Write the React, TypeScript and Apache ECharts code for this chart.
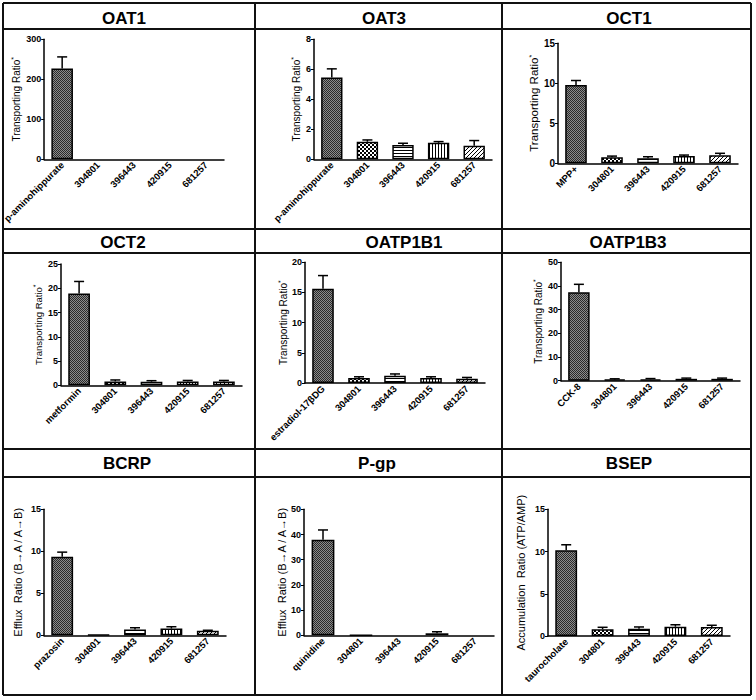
import React, { useEffect, useRef } from 'react';
import * as echarts from 'echarts';

const panelTitles = ['OAT1', 'OAT3', 'OCT1', 'OCT2', 'OATP1B1', 'OATP1B3', 'BCRP', 'P-gp', 'BSEP'];
const controls = ['p-aminohippurate', 'p-aminohippurate', 'MPP+', 'metformin', 'estradiol-17βDG', 'CCK-8', 'prazosin', 'quinidine', 'taurocholate'];
const compounds = ['304801', '396443', '420915', '681257'];
const yNames = [
  'Transporting Ratio', 'Transporting Ratio', 'Transporting Ratio',
  'Transporting Ratio', 'Transporting Ratio', 'Transporting Ratio',
  'Efflux  Ratio (B→A / A→B)', 'Efflux  Ratio (B→A / A→B)', 'Accumulation  Ratio (ATP/AMP)',
];
const yStar = [true, true, true, true, true, true, false, false, false];
const yMax = [300, 8, 15, 25, 20, 50, 15, 50, 15];
const yInterval = [100, 2, 5, 5, 5, 10, 5, 10, 5];

// mean values: [control, 304801, 396443, 420915, 681257]
const oat1Mean = [227, 0, 0, 0, 0];
const oat3Mean = [5.45, 1.17, 0.95, 1.1, 0.9];
const oct1Mean = [9.8, 0.75, 0.62, 0.9, 1.0];
const oct2Mean = [18.9, 0.8, 0.75, 0.8, 0.8];
const oatp1b1Mean = [15.6, 0.83, 1.2, 0.83, 0.72];
const oatp1b3Mean = [37.3, 0.5, 0.6, 0.8, 0.8];
const bcrpMean = [9.35, 0.05, 0.7, 0.8, 0.55];
const pgpMean = [37.9, 0.1, 0, 0.8, 0];
const bsepMean = [10.15, 0.8, 0.87, 1.1, 1.07];

// upper error (SD)
const oat1Err = [29, 0, 0, 0, 0];
const oat3Err = [0.58, 0.12, 0.12, 0.08, 0.35];
const oct1Err = [0.55, 0.15, 0.2, 0.13, 0.25];
const oct2Err = [2.5, 0.3, 0.2, 0.2, 0.2];
const oatp1b1Err = [2.2, 0.2, 0.3, 0.2, 0.2];
const oatp1b3Err = [3.4, 0.3, 0.3, 0.3, 0.3];
const bcrpErr = [0.55, 0, 0.2, 0.22, 0.05];
const pgpErr = [3.9, 0, 0, 0.6, 0];
const bsepErr = [0.65, 0.23, 0.2, 0.23, 0.2];

const means = [oat1Mean, oat3Mean, oct1Mean, oct2Mean, oatp1b1Mean, oatp1b3Mean, bcrpMean, pgpMean, bsepMean];
const errs = [oat1Err, oat3Err, oct1Err, oct2Err, oatp1b1Err, oatp1b3Err, bcrpErr, pgpErr, bsepErr];

// layout (pixels)
const gridBoxes = [
  { left: 42, top: 39.3, width: 182, height: 120, nameGap: 22, nameSize: 10, tickSize: 9 },
  { left: 314, top: 39.3, width: 178, height: 120, nameGap: 12, nameSize: 10, tickSize: 9 },
  { left: 558, top: 43.3, width: 180, height: 120, nameGap: 15, nameSize: 11.5, tickSize: 10 },
  { left: 61, top: 264, width: 181, height: 121.3, nameGap: 17, nameSize: 9.5, tickSize: 9 },
  { left: 305, top: 262.3, width: 180, height: 120.7, nameGap: 16, nameSize: 10, tickSize: 9 },
  { left: 561, top: 262.3, width: 179, height: 118.4, nameGap: 17, nameSize: 10, tickSize: 9 },
  { left: 44, top: 509.3, width: 182, height: 126, nameGap: 20, nameSize: 11, tickSize: 9 },
  { left: 304, top: 509.3, width: 190, height: 126, nameGap: 16, nameSize: 11, tickSize: 9 },
  { left: 548, top: 509.3, width: 182, height: 126.7, nameGap: 21, nameSize: 11, tickSize: 9 },
];
const vLines = [3, 255, 502, 751];
const hLines = [3, 29, 229, 253, 449, 477, 695];
const titlePos = [[124, 18], [384, 18], [629, 18], [123, 242], [404, 242], [628, 242], [127, 463], [377, 463], [629, 463]];

const FONT = '"Liberation Sans", Arial, sans-serif';

function makePattern(kind: string) {
  const c = document.createElement('canvas');
  const ctx = c.getContext('2d') as CanvasRenderingContext2D;
  if (kind === 'dark') {
    c.width = 2; c.height = 2;
    ctx.fillStyle = '#8c8c8c'; ctx.fillRect(0, 0, 2, 2);
    ctx.fillStyle = '#2a2a2a'; ctx.fillRect(0, 0, 1, 1); ctx.fillRect(1, 1, 1, 1);
  } else if (kind === 'checker') {
    c.width = 4; c.height = 4;
    ctx.fillStyle = '#ffffff'; ctx.fillRect(0, 0, 4, 4);
    ctx.fillStyle = '#000000'; ctx.fillRect(0, 0, 2, 2); ctx.fillRect(2, 2, 2, 2);
  } else if (kind === 'hlines') {
    c.width = 3; c.height = 3;
    ctx.fillStyle = '#ffffff'; ctx.fillRect(0, 0, 3, 3);
    ctx.fillStyle = '#000000'; ctx.fillRect(0, 0, 3, 1);
  } else if (kind === 'vlines') {
    c.width = 3; c.height = 3;
    ctx.fillStyle = '#ffffff'; ctx.fillRect(0, 0, 3, 3);
    ctx.fillStyle = '#000000'; ctx.fillRect(0, 0, 1, 3);
  } else {
    c.width = 4; c.height = 4;
    ctx.fillStyle = '#ffffff'; ctx.fillRect(0, 0, 4, 4);
    ctx.fillStyle = '#000000';
    for (let i = 0; i < 4; i++) ctx.fillRect(i, 3 - i, 1, 1);
  }
  return { image: c, repeat: 'repeat' };
}

export default function App() {
  const ref = useRef<HTMLDivElement>(null);
  useEffect(() => {
    document.body.style.margin = '0';
    if (!ref.current) return;
    const chart = echarts.init(ref.current, null, { renderer: 'svg' });
    const pats = ['dark', 'checker', 'hlines', 'vlines', 'diag'].map(makePattern);

    const grid: any[] = [];
    const xAxis: any[] = [];
    const yAxis: any[] = [];
    const series: any[] = [];
    panelTitles.forEach((_, i) => {
      const g = gridBoxes[i];
      grid.push({ left: g.left, top: g.top, width: g.width, height: g.height });
      xAxis.push({
        type: 'category', gridIndex: i, data: [controls[i], ...compounds],
        axisLine: { lineStyle: { color: '#000', width: 1.5 } },
        axisTick: { alignWithLabel: true, length: 3, lineStyle: { color: '#000', width: 1 } },
        axisLabel: { rotate: 45, interval: 0, fontSize: 9.5, fontWeight: 'bold', color: '#000', margin: 4, fontFamily: FONT },
      });
      yAxis.push({
        type: 'value', gridIndex: i, min: 0, max: yMax[i], interval: yInterval[i],
        axisLine: { show: true, lineStyle: { color: '#000', width: 1.5 } },
        axisTick: { show: true, length: 3, lineStyle: { color: '#000', width: 1 } },
        splitLine: { show: false },
        axisLabel: { fontSize: g.tickSize, fontWeight: 'bold', color: '#000', margin: 3, fontFamily: FONT },
        name: yStar[i] ? '{a|' + yNames[i] + '}{b|*}' : '{a|' + yNames[i] + '}',
        nameLocation: 'middle', nameRotate: 90, nameGap: g.nameGap,
        nameTextStyle: {
          color: '#000', fontFamily: FONT, fontSize: g.nameSize,
          rich: {
            a: { fontSize: g.nameSize, fontFamily: FONT, color: '#000', lineHeight: 12 },
            b: { fontSize: 7, fontFamily: FONT, color: '#000', verticalAlign: 'top', lineHeight: 12 },
          },
        },
      });
      series.push({
        type: 'bar', xAxisIndex: i, yAxisIndex: i, barWidth: '60%',
        data: means[i].map((v, j) => ({
          value: v,
          itemStyle: { color: pats[j], borderColor: '#000', borderWidth: v > 0 ? 1.5 : 0 },
        })),
      });
      series.push({
        type: 'custom', xAxisIndex: i, yAxisIndex: i, z: 5,
        data: means[i].map((v, j) => [j, v, errs[i][j]]),
        renderItem: (params: any, api: any) => {
          const e = api.value(2);
          if (!e) return null;
          const p0 = api.coord([api.value(0), api.value(1)]);
          const p1 = api.coord([api.value(0), api.value(1) + e]);
          return {
            type: 'group',
            children: [
              { type: 'line', shape: { x1: p0[0], y1: p0[1], x2: p1[0], y2: p1[1] }, style: { stroke: '#000', lineWidth: 1.5 } },
              { type: 'line', shape: { x1: p1[0] - 5, y1: p1[1], x2: p1[0] + 5, y2: p1[1] }, style: { stroke: '#000', lineWidth: 1.5 } },
            ],
          };
        },
      });
    });

    const graphic: any[] = [];
    vLines.forEach((x) => graphic.push({ type: 'line', shape: { x1: x, y1: hLines[0], x2: x, y2: hLines[hLines.length - 1] }, style: { stroke: '#111', lineWidth: 2 }, z: 10 }));
    hLines.forEach((y) => graphic.push({ type: 'line', shape: { x1: vLines[0], y1: y, x2: vLines[vLines.length - 1], y2: y }, style: { stroke: '#111', lineWidth: 2 }, z: 10 }));
    panelTitles.forEach((t, i) => graphic.push({
      type: 'text', x: titlePos[i][0], y: titlePos[i][1], z: 10,
      style: { text: t, fill: '#000', font: 'bold 17px ' + FONT, textAlign: 'center', textVerticalAlign: 'middle' },
    }));

    chart.setOption({ animation: false, backgroundColor: '#fff', grid, xAxis, yAxis, series, graphic });
    return () => chart.dispose();
  }, []);
  return <div ref={ref} style={{ width: 756, height: 700, position: 'absolute', left: 0, top: 0 }} />;
}
